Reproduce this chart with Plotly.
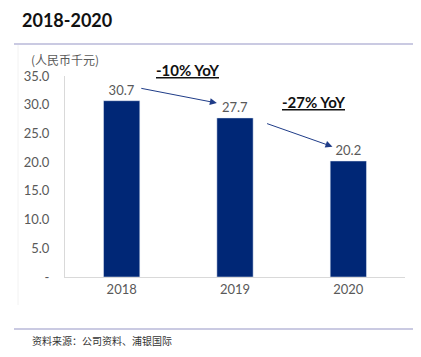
import plotly.graph_objects as go

categories = ["2018", "2019", "2020"]
values = [30.7, 27.7, 20.2]
value_labels = ["30.7", "27.7", "20.2"]
tick_vals = [0, 5, 10, 15, 20, 25, 30, 35]
tick_text = ["-", "5.0", "10.0", "15.0", "20.0", "25.0", "30.0", "35.0"]
yoy_labels = ["-10% YoY", "-27% YoY"]

BAR = "#002776"
ARROW = "#1f3c88"
GRAY = "#595959"
FONT = "Lato, 'Open Sans', sans-serif"
CJK = "'Noto Sans CJK SC', sans-serif"

# page body has an 8px margin; compensate
OFF = 8
W, H = 421 - OFF, 357 - OFF
L, T = 65 - OFF, 76 - OFF
R = W - (405 - OFF)
B = H - (277 - OFF)
pw = W - L - R
ph = H - T - B

def px(x):
    return (x - OFF - L) / pw

def py(y):
    return (H - B - (y - OFF)) / ph

fig = go.Figure(go.Bar(
    x=categories, y=values, marker_color=BAR, width=0.32,
    text=value_labels, textposition="outside", cliponaxis=False,
    textfont=dict(color=GRAY, size=13, family=FONT),
))

annotations = [
    dict(text="<b>2018-2020</b>", xref="paper", yref="paper", x=px(21), y=py(8),
         xanchor="left", yanchor="top", showarrow=False, borderpad=0,
         font=dict(size=18, color="#111111", family=FONT)),
    dict(text="(人民币千元)", xref="paper", yref="paper", x=px(65), y=py(60),
         xanchor="center", yanchor="middle", showarrow=False,
         font=dict(size=12, color=GRAY, family=CJK)),
    dict(text="资料来源：公司资料、浦银国际", xref="paper", yref="paper", x=px(30), y=py(340),
         xanchor="left", yanchor="middle", showarrow=False,
         font=dict(size=10, color="#333333", family=CJK)),
    dict(text="<b><u>" + yoy_labels[0] + "</u></b>", xref="paper", yref="paper",
         x=px(187), y=py(70), xanchor="center", yanchor="middle", showarrow=False,
         font=dict(size=15, color="#111111", family=FONT)),
    dict(text="<b><u>" + yoy_labels[1] + "</u></b>", xref="paper", yref="paper",
         x=px(313), y=py(102), xanchor="center", yanchor="middle", showarrow=False,
         font=dict(size=15, color="#111111", family=FONT)),
    dict(x=0.84, y=30.3, ax=0.16, ay=32.9, xref="x", yref="y", axref="x", ayref="y",
         text="", showarrow=True, arrowhead=2, arrowsize=1.4, arrowwidth=1, arrowcolor=ARROW),
    dict(x=1.86, y=22.7, ax=1.27, ay=26.8, xref="x", yref="y", axref="x", ayref="y",
         text="", showarrow=True, arrowhead=2, arrowsize=1.4, arrowwidth=1, arrowcolor=ARROW),
]

shapes = [
    dict(type="line", xref="paper", yref="paper", x0=px(14), x1=px(418), y0=py(44), y1=py(44),
         line=dict(color="#b8b8d8", width=1.5)),
    dict(type="line", xref="paper", yref="paper", x0=px(14), x1=px(418), y0=py(329), y1=py(329),
         line=dict(color="#b8b8d8", width=1.5)),
    dict(type="line", xref="paper", yref="paper", x0=px(18), x1=px(18), y0=py(45), y1=py(305),
         line=dict(color="#f2f2f2", width=1)),
]

fig.update_layout(
    width=W, height=H, margin=dict(l=L, r=R, t=T, b=B),
    plot_bgcolor="white", paper_bgcolor="white", showlegend=False,
    annotations=annotations, shapes=shapes,
    font=dict(family=FONT, color=GRAY, size=13),
)
fig.update_xaxes(showgrid=False, showline=True, linecolor="#d9d9d9", linewidth=1,
                 ticks="", tickfont=dict(size=13, color=GRAY, family=FONT))
fig.update_yaxes(range=[0, 35], tickvals=tick_vals, ticktext=tick_text, showgrid=False,
                 zeroline=False, showline=True, linecolor="#d9d9d9", linewidth=1,
                 ticks="", ticklabelstandoff=12, tickfont=dict(size=13, color=GRAY, family=FONT))

fig.write_html("out.html")
